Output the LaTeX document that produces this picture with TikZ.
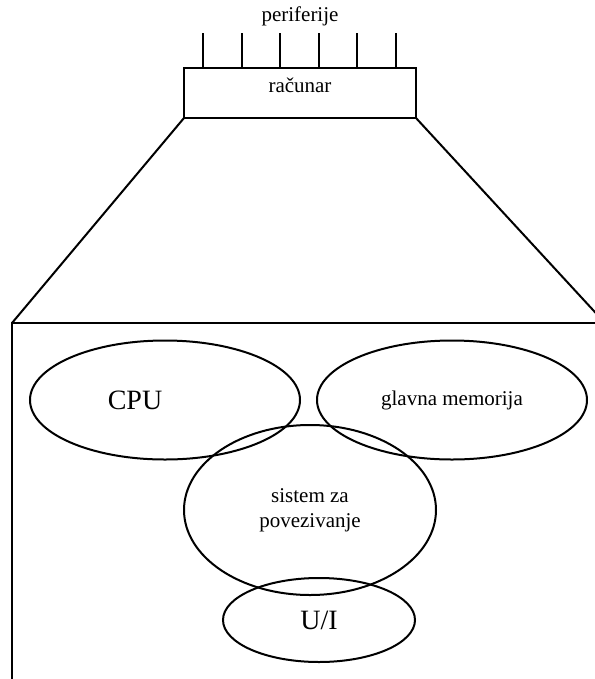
\documentclass[tikz,border=0pt]{standalone}
\usepackage{fontspec}
\setmainfont{Liberation Serif}
\usetikzlibrary{shapes.geometric}

\tikzset{
  natpis/.style={font=\fontsize{15.75}{18.75}\selectfont, align=center, inner sep=0pt},
  veliki/.style={font=\fontsize{21}{24}\selectfont, inner sep=0pt},
  krug/.style={draw, ellipse, inner sep=0pt, outer sep=0pt, natpis},
  kutija/.style={draw, rectangle, inner sep=0pt, outer sep=0pt}
}

\begin{document}
\begin{tikzpicture}[x=0.75pt, y=-0.75pt, line width=1.5pt]
% okvir slike
\useasboundingbox (0,0) rectangle (595,679);
\clip (0,0) rectangle (595,679);

% racunar sa periferijama
\node[natpis] (periferije) at (300,16) {periferije};
\node[kutija, anchor=north west, minimum width=232*0.75pt, minimum height=50*0.75pt] (racunar) at (184,68) {};
\node[natpis, anchor=base] (racunarNatpis) at (300,92) {računar};
\foreach \i in {0,...,5}
  \draw (racunar.north west) ++(19+38.6*\i,0) -- ++(0,-35);

% unutrasnjost racunara
\node[kutija, anchor=north west, minimum width=593*0.75pt, minimum height=400*0.75pt] (detalj) at (12,323) {};
\draw (racunar.south west) -- (detalj.north west);
\draw (racunar.south east) -- (detalj.north east);

% delovi
\node[krug, minimum width=270*0.75pt, minimum height=119*0.75pt,
  label={[veliki, xshift=-30*0.75pt]center:CPU}] (cpu) at (165,400) {};
\node[krug, minimum width=270*0.75pt, minimum height=119*0.75pt] (memorija) at (452,400) {glavna memorija};
\node[krug, minimum width=252*0.75pt, minimum height=170*0.75pt] (povezivanje) at (310,510) {sistem za\\povezivanje};
\node[krug, veliki, minimum width=192*0.75pt, minimum height=84*0.75pt] (ui) at (319,620) {U/I};
\end{tikzpicture}
\end{document}
